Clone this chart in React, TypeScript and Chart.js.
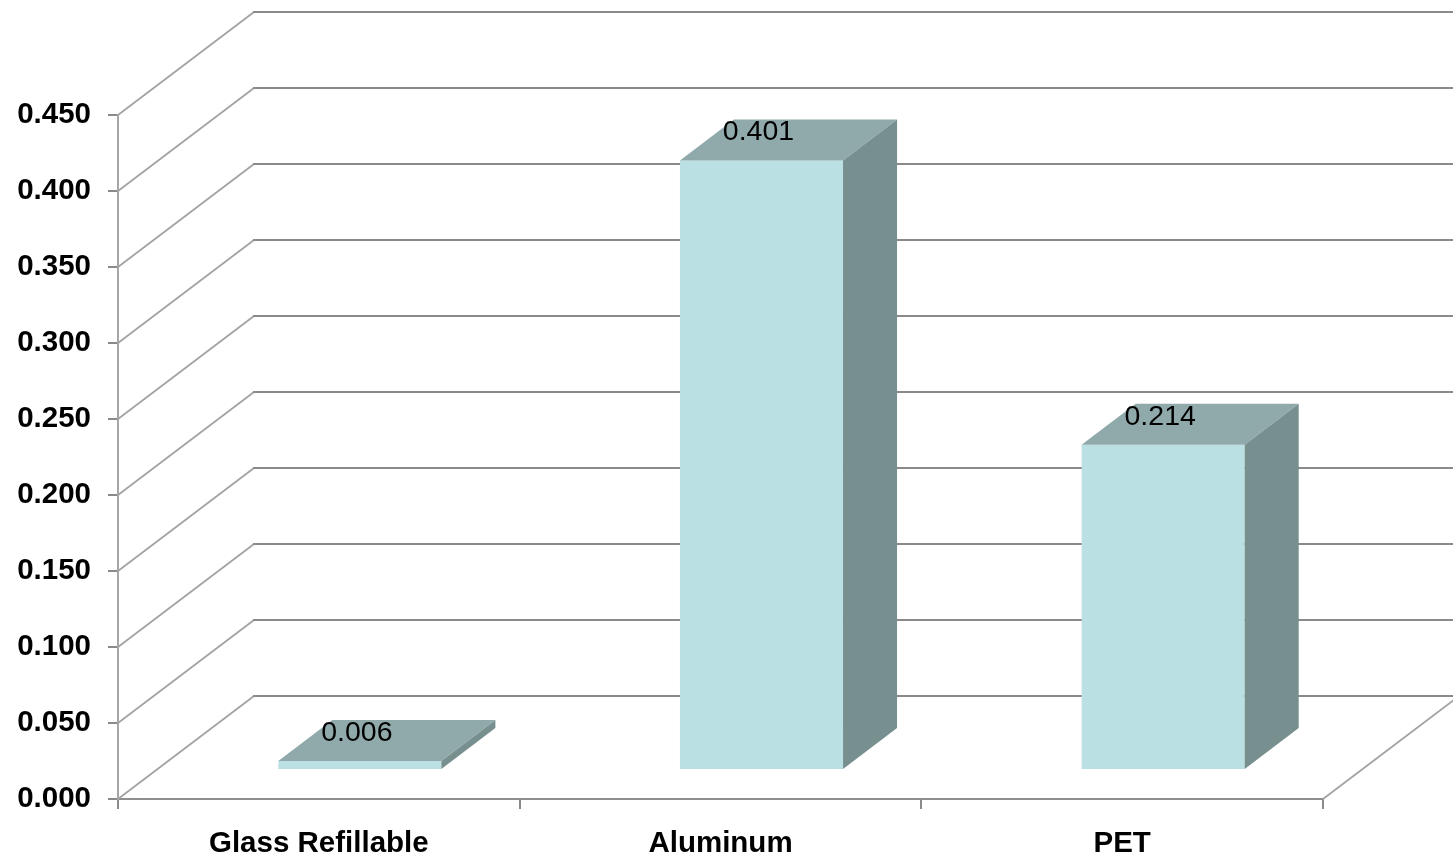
import React, { useEffect, useRef } from "react";
import { Chart, registerables } from "chart.js";

Chart.register(...registerables);

const categories = ["Glass Refillable", "Aluminum", "PET"];
const values = [0.006, 0.401, 0.214];
const yMin = 0;
const yMax = 0.45;
const yStep = 0.05;

const FONT = "'Liberation Sans', Arial, sans-serif";
const FRONT = "#BAE0E3";
const TOP = "#90A9AA";
const SIDE = "#788F8F";

// 3D projection offsets
const WALL_DX = 136;
const WALL_DY = -103;
const BAR_OX = 41;
const BAR_OY = -29;
const DEPTH_DX = 54;
const DEPTH_DY = -41;

const wallPlugin = {
  id: "wall3d",
  beforeDatasetsDraw(chart: any) {
    const { ctx, chartArea, scales } = chart;
    const y = scales.y;
    const { left, right, bottom } = chartArea;
    ctx.save();
    const n = Math.round((yMax - yMin) / yStep);
    for (let i = 0; i <= n; i++) {
      const v = yMin + i * yStep;
      const py = y.getPixelForValue(v);
      ctx.beginPath();
      ctx.strokeStyle = "#a3a3a3";
      ctx.lineWidth = 1.8;
      ctx.moveTo(left, py);
      ctx.lineTo(left + WALL_DX, py + WALL_DY);
      ctx.stroke();
      ctx.beginPath();
      ctx.strokeStyle = "#8a8a8a";
      ctx.lineWidth = 2;
      ctx.moveTo(left + WALL_DX - 1, py + WALL_DY);
      ctx.lineTo(right + WALL_DX + 10, py + WALL_DY);
      ctx.stroke();
    }
    ctx.beginPath();
    ctx.strokeStyle = "#a3a3a3";
    ctx.lineWidth = 1.8;
    ctx.moveTo(right, bottom);
    ctx.lineTo(right + WALL_DX, bottom + WALL_DY);
    ctx.stroke();
    ctx.restore();
    ctx.save();
    ctx.translate(BAR_OX, BAR_OY);
  },
  afterDatasetsDraw(chart: any) {
    const { ctx } = chart;
    ctx.restore();
    const meta = chart.getDatasetMeta(0);
    ctx.save();
    meta.data.forEach((bar: any, i: number) => {
      const p = bar.getProps(["x", "y", "base", "width"], true);
      const L = p.x - p.width / 2 + BAR_OX;
      const R = p.x + p.width / 2 + BAR_OX;
      const T = Math.min(p.y, p.base) + BAR_OY;
      const B = Math.max(p.y, p.base) + BAR_OY;
      // top face
      ctx.beginPath();
      ctx.fillStyle = TOP;
      ctx.moveTo(L, T);
      ctx.lineTo(R, T);
      ctx.lineTo(R + DEPTH_DX, T + DEPTH_DY);
      ctx.lineTo(L + DEPTH_DX, T + DEPTH_DY);
      ctx.closePath();
      ctx.fill();
      // side face
      ctx.beginPath();
      ctx.fillStyle = SIDE;
      ctx.moveTo(R, T);
      ctx.lineTo(R + DEPTH_DX, T + DEPTH_DY);
      ctx.lineTo(R + DEPTH_DX, B + DEPTH_DY);
      ctx.lineTo(R, B);
      ctx.closePath();
      ctx.fill();
      // value label
      ctx.fillStyle = "#000";
      ctx.font = `28.5px ${FONT}`;
      ctx.textAlign = "center";
      ctx.textBaseline = "middle";
      ctx.fillText(values[i].toFixed(3), (L + R) / 2 - 3, T - 28);
    });
    ctx.restore();
  },
};

export default function App() {
  const ref = useRef<HTMLCanvasElement | null>(null);
  useEffect(() => {
    document.body.style.margin = "0";
    const canvas = ref.current!;
    const chart = new Chart(canvas, {
      type: "bar",
      data: {
        labels: categories,
        datasets: [
          {
            data: values,
            backgroundColor: FRONT,
            borderWidth: 0,
            barPercentage: 0.406,
            categoryPercentage: 1,
          },
        ],
      },
      options: {
        responsive: false,
        animation: false,
        devicePixelRatio: 1,
        layout: { padding: { top: 115, right: 130, left: 0, bottom: 0 } },
        plugins: {
          legend: { display: false },
          tooltip: { enabled: false },
          title: { display: false },
        },
        scales: {
          x: {
            type: "category",
            grid: {
              offset: true,
              drawOnChartArea: false,
              drawTicks: true,
              tickLength: 10,
              color: "#8a8a8a",
              lineWidth: 2,
            },
            border: { display: true, color: "#8e8e8e", width: 2 },
            ticks: {
              color: "#000",
              font: { family: FONT, size: 29.5, weight: "bold" },
              padding: 17,
              maxRotation: 0,
              autoSkip: false,
            },
            afterFit: (s: any) => {
              s.height = 60;
            },
          },
          y: {
            min: yMin,
            max: yMax,
            grid: {
              drawOnChartArea: false,
              drawTicks: true,
              tickLength: 10,
              color: "#8a8a8a",
              lineWidth: 2,
            },
            border: { display: true, color: "#a6a6a6", width: 2 },
            ticks: {
              stepSize: yStep,
              color: "#000",
              font: { family: FONT, size: 29.5, weight: "bold" },
              padding: 17,
              callback: (v: any) => Number(v).toFixed(3),
            },
            afterFit: (s: any) => {
              s.width = 118;
            },
          },
        },
      },
      plugins: [wallPlugin],
    });
    return () => chart.destroy();
  }, []);
  return (
    <canvas
      ref={ref}
      width={1453}
      height={859}
      style={{ display: "block", width: 1453, height: 859 }}
    />
  );
}
